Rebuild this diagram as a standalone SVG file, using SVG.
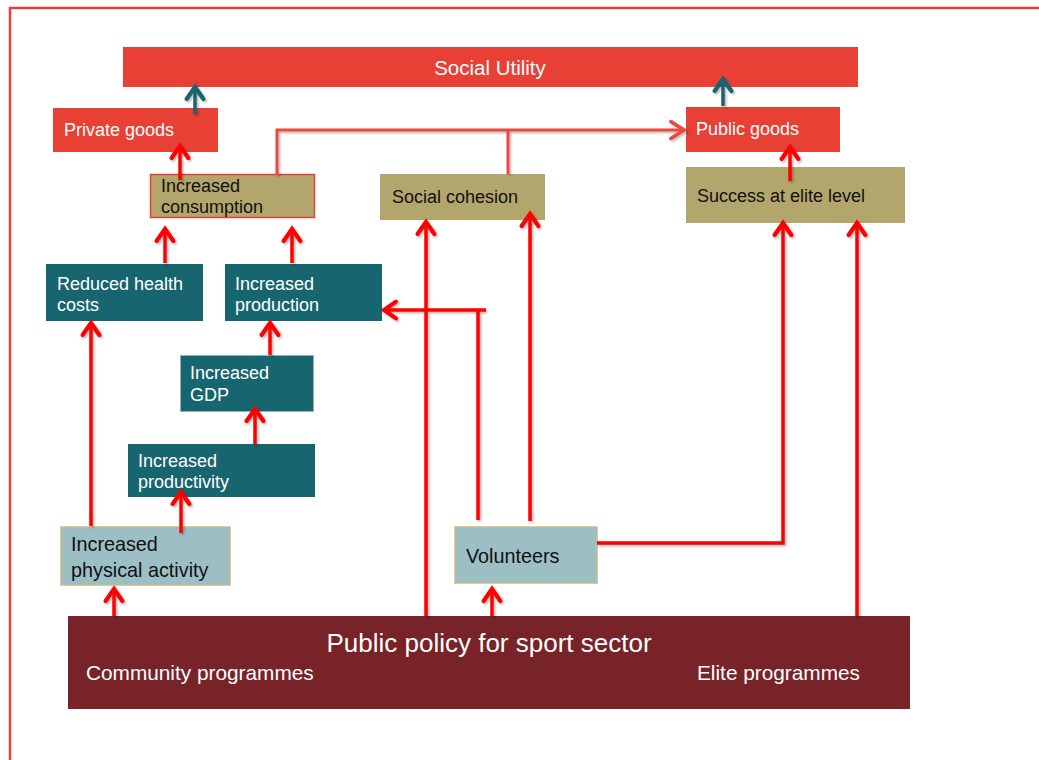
<svg xmlns="http://www.w3.org/2000/svg" width="1039" height="760" viewBox="0 0 1039 760">
<defs>
<style>
.t{font-family:"Liberation Sans",Arial,sans-serif;}
.w{fill:#ffffff;}
.k{fill:#111111;}
.red{fill:#E94035;}
.teal{fill:#17656E;}
.olive{fill:#B3A66C;}
.light{fill:#9BBFC3;stroke:#C9B98A;stroke-width:1.5;}
.ra{fill:none;stroke:#FF0000;stroke-width:3.5;marker-end:url(#mr);}
.rl{fill:none;stroke:#FF0000;stroke-width:3.5;}
.sa{fill:none;stroke:#EA4A3F;stroke-width:3;}
.ta{fill:none;stroke:#17656E;stroke-width:3.5;marker-end:url(#mt);}
</style>
<filter id="sh" x="-20%" y="-20%" width="140%" height="140%">
<feDropShadow dx="1.5" dy="1.5" stdDeviation="1" flood-color="#000000" flood-opacity="0.3"/>
</filter>
<marker id="mr" markerUnits="userSpaceOnUse" markerWidth="24" markerHeight="24" refX="0" refY="0" viewBox="-14 -10 18 20" orient="auto" overflow="visible">
<path d="M-10,-7 L0,0 L-10,7" fill="none" stroke="#FF0000" stroke-width="3.5" stroke-linecap="round" stroke-linejoin="miter"/>
</marker>
<marker id="ms" markerUnits="userSpaceOnUse" markerWidth="24" markerHeight="24" refX="0" refY="0" viewBox="-14 -10 18 20" orient="auto" overflow="visible">
<path d="M-11,-7 L0,0 L-11,7" fill="none" stroke="#EA4A3F" stroke-width="3" stroke-linecap="round"/>
</marker>
<marker id="mt" markerUnits="userSpaceOnUse" markerWidth="24" markerHeight="24" refX="0" refY="0" viewBox="-14 -10 18 20" orient="auto" overflow="visible">
<path d="M-10,-7 L0,0 L-10,7" fill="none" stroke="#17656E" stroke-width="3.5" stroke-linecap="round"/>
</marker>
</defs>
<rect width="1039" height="760" fill="#ffffff"/>
<path d="M10,760 V8 H1039" fill="none" stroke="#E94035" stroke-width="2.5"/>

<g id="social-utility"><rect class="red" x="123" y="47" width="735" height="40"/><text class="t w" x="490" y="75" font-size="20.5" text-anchor="middle">Social Utility</text></g>
<g id="private-goods"><rect class="red" x="53" y="108" width="165" height="44"/><text class="t w" x="64" y="136" font-size="18">Private goods</text></g>
<g id="public-goods"><rect class="red" x="686" y="107" width="154" height="45"/><text class="t w" x="696" y="135" font-size="18">Public goods</text></g>
<g id="increased-consumption"><rect class="olive" x="150.5" y="174.5" width="164" height="43" stroke="#E94035" stroke-width="1.5"/><text class="t k" font-size="18"><tspan x="161" y="192">Increased</tspan><tspan x="161" y="213">consumption</tspan></text></g>
<g id="social-cohesion"><rect class="olive" x="380" y="174" width="165" height="46"/><text class="t k" x="392" y="203" font-size="18">Social cohesion</text></g>
<g id="success-elite"><rect class="olive" x="686" y="167" width="219" height="56"/><text class="t k" x="697" y="202" font-size="18">Success at elite level</text></g>
<g id="reduced-health-costs"><rect class="teal" x="46" y="264" width="157" height="57"/><text class="t w" font-size="18"><tspan x="57" y="290">Reduced health</tspan><tspan x="57" y="311">costs</tspan></text></g>
<g id="increased-production"><rect class="teal" x="225" y="264" width="157" height="57"/><text class="t w" font-size="18"><tspan x="235" y="290">Increased</tspan><tspan x="235" y="311">production</tspan></text></g>
<g id="increased-gdp"><rect class="teal" x="180.5" y="355.5" width="133" height="56" stroke="#8DB5BA" stroke-width="1"/><text class="t w" font-size="18"><tspan x="190" y="379">Increased</tspan><tspan x="190" y="401">GDP</tspan></text></g>
<g id="increased-productivity"><rect class="teal" x="128" y="444" width="187" height="53"/><text class="t w" font-size="18"><tspan x="138" y="467">Increased</tspan><tspan x="138" y="488">productivity</tspan></text></g>
<g id="increased-physical-activity"><rect class="light" x="61" y="527" width="169" height="58"/><text class="t k" font-size="19.8"><tspan x="71" y="551">Increased</tspan><tspan x="71" y="577">physical activity</tspan></text></g>
<g id="volunteers"><rect class="light" x="455" y="527" width="142" height="56"/><text class="t k" x="466" y="563" font-size="19.8">Volunteers</text></g>
<g id="public-policy"><rect x="68" y="616" width="842" height="93" fill="#772328"/><text class="t w" x="489" y="652" font-size="26" text-anchor="middle">Public policy for sport sector</text><text class="t w" x="86" y="680" font-size="20.8">Community programmes</text><text class="t w" x="697" y="680" font-size="20.8">Elite programmes</text></g>

<g id="connectors" filter="url(#sh)">
<path class="ta" d="M195,114 V87"/>
<path class="ta" d="M723,106 V79"/>
<path class="sa" d="M277,175 V130 H684" marker-end="url(#ms)"/>
<path class="sa" d="M508,174 V130"/>
<path class="ra" d="M180,180 V146"/>
<path class="ra" d="M165,263 V229"/>
<path class="ra" d="M292,263 V229"/>
<path class="ra" d="M270,355 V323"/>
<path class="ra" d="M255,444 V409"/>
<path class="ra" d="M181,533 V492"/>
<path class="ra" d="M91,526 V323"/>
<path class="ra" d="M114,616 V589"/>
<path class="ra" d="M492,616 V589"/>
<path class="ra" d="M426,616 V222"/>
<path class="ra" d="M530,521 V214"/>
<path class="rl" d="M478,520 V310"/>
<path class="ra" d="M486,310 H384"/>
<path class="ra" d="M597,543 H783 V223"/>
<path class="ra" d="M857,616 V223"/>
<path class="ra" d="M790,181 V147"/>
</g>
</svg>
